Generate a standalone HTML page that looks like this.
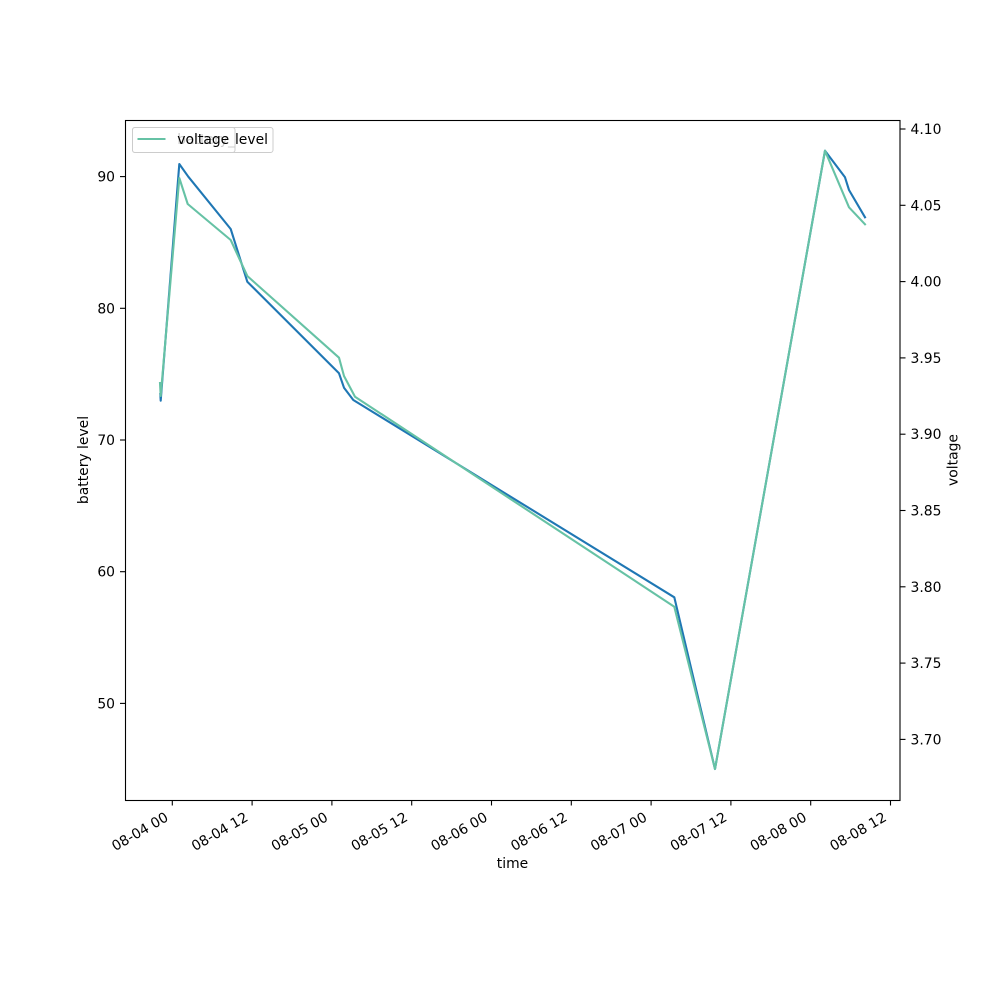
<!DOCTYPE html>
<html>
<head>
<meta charset="utf-8">
<style>
  html, body { margin: 0; padding: 0; background: #ffffff; }
  svg { display: block; }
  text { font-family: "DejaVu Sans", "Liberation Sans", sans-serif; font-size: 13.9px; fill: #000; }
</style>
</head>
<body>
<svg width="1000" height="1000" viewBox="0 0 1000 1000" xmlns="http://www.w3.org/2000/svg">
  <rect x="0" y="0" width="1000" height="1000" fill="#ffffff"/>

  <!-- battery line (ax1) -->
  <polyline fill="none" stroke="#1f77b4" stroke-width="2.1" stroke-linejoin="round" stroke-linecap="square"
    points="160.3,394 160.7,400.7 179.3,164 188.3,176.7 230.7,229 247.3,281.7 339,373.3 344,387.7 353.3,400 674.3,597.3 715,769 825,150.7 845,177.3 849,190 865,217.3"/>

  <!-- battery legend -->
  <rect x="132.5" y="127.5" width="140.5" height="25" rx="2.5" ry="2.5" fill="#ffffff" fill-opacity="0.8" stroke="#cccccc" stroke-width="1"/>
  <line x1="137.5" y1="139" x2="165.5" y2="139" stroke="#1f77b4" stroke-width="2.1"/>
  <text x="177.3" y="144.2">battery_level</text>

  <!-- voltage line (ax2) -->
  <polyline fill="none" stroke="#66c2a5" stroke-width="2.1" stroke-linejoin="round" stroke-linecap="square"
    points="160,383 160.7,396 179.3,178 187.7,204 230.7,240 247.3,276 339,357.7 344,376 355,396.7 674.3,606.7 715,769 825,150.7 849,207.3 865,224.3"/>

  <!-- voltage legend -->
  <rect x="132.5" y="127.5" width="102.5" height="25" rx="2.5" ry="2.5" fill="#ffffff" fill-opacity="0.8" stroke="#cccccc" stroke-width="1"/>
  <line x1="137.5" y1="139" x2="165.5" y2="139" stroke="#66c2a5" stroke-width="2.1"/>
  <text x="177.3" y="144.2">voltage</text>

  <!-- axes frame -->
  <rect x="125.5" y="120.5" width="774.5" height="680" fill="none" stroke="#000" stroke-width="1.1"/>

  <!-- left ticks -->
  <g stroke="#000" stroke-width="1.1">
    <line x1="120" y1="176.6" x2="125.5" y2="176.6"/>
    <line x1="120" y1="308.3" x2="125.5" y2="308.3"/>
    <line x1="120" y1="440" x2="125.5" y2="440"/>
    <line x1="120" y1="571.7" x2="125.5" y2="571.7"/>
    <line x1="120" y1="703.4" x2="125.5" y2="703.4"/>
  </g>
  <g text-anchor="end">
    <text x="115" y="181.6">90</text>
    <text x="115" y="313.3">80</text>
    <text x="115" y="445">70</text>
    <text x="115" y="576.7">60</text>
    <text x="115" y="708.4">50</text>
  </g>

  <!-- right ticks -->
  <g stroke="#000" stroke-width="1.1">
    <line x1="900" y1="129" x2="905.5" y2="129"/>
    <line x1="900" y1="205.3" x2="905.5" y2="205.3"/>
    <line x1="900" y1="281.6" x2="905.5" y2="281.6"/>
    <line x1="900" y1="357.9" x2="905.5" y2="357.9"/>
    <line x1="900" y1="434.2" x2="905.5" y2="434.2"/>
    <line x1="900" y1="510.5" x2="905.5" y2="510.5"/>
    <line x1="900" y1="586.8" x2="905.5" y2="586.8"/>
    <line x1="900" y1="663.1" x2="905.5" y2="663.1"/>
    <line x1="900" y1="739.4" x2="905.5" y2="739.4"/>
  </g>
  <g text-anchor="start">
    <text x="910.5" y="134">4.10</text>
    <text x="910.5" y="210.3">4.05</text>
    <text x="910.5" y="286.6">4.00</text>
    <text x="910.5" y="362.9">3.95</text>
    <text x="910.5" y="439.2">3.90</text>
    <text x="910.5" y="515.5">3.85</text>
    <text x="910.5" y="591.8">3.80</text>
    <text x="910.5" y="668.1">3.75</text>
    <text x="910.5" y="744.4">3.70</text>
  </g>

  <!-- x ticks -->
  <g stroke="#000" stroke-width="1.1">
    <line x1="172.3" y1="800.5" x2="172.3" y2="805.5"/>
    <line x1="252.1" y1="800.5" x2="252.1" y2="805.5"/>
    <line x1="331.9" y1="800.5" x2="331.9" y2="805.5"/>
    <line x1="411.7" y1="800.5" x2="411.7" y2="805.5"/>
    <line x1="491.5" y1="800.5" x2="491.5" y2="805.5"/>
    <line x1="571.3" y1="800.5" x2="571.3" y2="805.5"/>
    <line x1="651.1" y1="800.5" x2="651.1" y2="805.5"/>
    <line x1="730.9" y1="800.5" x2="730.9" y2="805.5"/>
    <line x1="810.7" y1="800.5" x2="810.7" y2="805.5"/>
    <line x1="890.5" y1="800.5" x2="890.5" y2="805.5"/>
  </g>
  <g text-anchor="end">
    <text transform="translate(169.3,820) rotate(-30)">08-04 00</text>
    <text transform="translate(249.1,820) rotate(-30)">08-04 12</text>
    <text transform="translate(328.9,820) rotate(-30)">08-05 00</text>
    <text transform="translate(408.7,820) rotate(-30)">08-05 12</text>
    <text transform="translate(488.5,820) rotate(-30)">08-06 00</text>
    <text transform="translate(568.3,820) rotate(-30)">08-06 12</text>
    <text transform="translate(648.1,820) rotate(-30)">08-07 00</text>
    <text transform="translate(727.9,820) rotate(-30)">08-07 12</text>
    <text transform="translate(807.7,820) rotate(-30)">08-08 00</text>
    <text transform="translate(887.5,820) rotate(-30)">08-08 12</text>
  </g>

  <!-- axis labels -->
  <text x="512.5" y="868" text-anchor="middle">time</text>
  <text transform="translate(88,460) rotate(-90)" text-anchor="middle">battery level</text>
  <text transform="translate(957.5,460) rotate(-90)" text-anchor="middle">voltage</text>
</svg>
</body>
</html>
